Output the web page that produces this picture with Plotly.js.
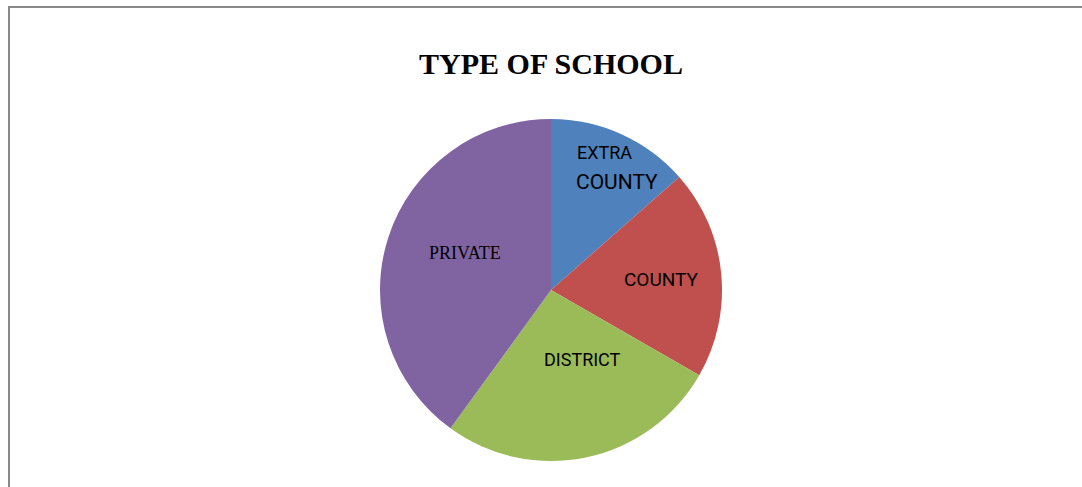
<!DOCTYPE html>
<html>
<head>
<meta charset="utf-8">
<script src="https://cdn.plot.ly/plotly-3.0.1.min.js"></script>
<style>
  html, body { margin: 0; padding: 0; background: #ffffff; overflow: hidden; }
  #wrap { position: relative; width: 1082px; height: 487px; }
  #chart { position: absolute; left: 0; top: 0; width: 1082px; height: 487px; }
  #frame { position: absolute; left: 8px; top: 6px; width: 1200px; height: 600px;
           border-left: 2px solid #8a8a8a; border-top: 2px solid #8a8a8a; pointer-events: none; }
</style>
</head>
<body>
<div id="wrap">
  <div id="chart"></div>
  <div id="frame"></div>
</div>
<script>
// Data (share of schools by type, %)
const categories = ["EXTRA COUNTY", "COUNTY", "DISTRICT", "PRIVATE"];
const shares = [13.5, 19.8, 26.7, 40.0];
const sliceColors = ["#4F81BD", "#C0504D", "#9BBB59", "#8064A2"];
const chartTitle = "TYPE OF SCHOOL";

const W = 1082, H = 487;
const px = x => x / W;
const py = y => 1 - y / H;

const trace = {
  type: "pie",
  labels: categories,
  values: shares,
  sort: false,
  direction: "clockwise",
  rotation: 0,
  marker: { colors: sliceColors, line: { width: 0 } },
  textinfo: "none",
  hoverinfo: "label+percent",
  showlegend: false,
  domain: { x: [px(380), px(722)], y: [py(461), py(119)] }
};

const sans = "Roboto, 'Liberation Sans', sans-serif";
const serif = "'Liberation Serif', 'Times New Roman', serif";
const extraWords = categories[0].split(" ");

const annotations = [
  { text: extraWords[0], x: px(604), y: py(153), font: { family: sans, size: 18, color: "#000" } },
  { text: extraWords[1], x: px(617), y: py(182), font: { family: sans, size: 21, color: "#000" } },
  { text: categories[1], x: px(661), y: py(279), font: { family: sans, size: 19, color: "#000" } },
  { text: categories[2], x: px(582), y: py(359), font: { family: sans, size: 18, color: "#000" } },
  { text: categories[3], x: px(465), y: py(253), font: { family: serif, size: 18, color: "#000" } }
].map(a => Object.assign({ xref: "paper", yref: "paper", xanchor: "center", yanchor: "middle", showarrow: false }, a));

const layout = {
  width: W, height: H,
  margin: { l: 0, r: 0, t: 0, b: 0 },
  paper_bgcolor: "#ffffff",
  plot_bgcolor: "#ffffff",
  title: {
    text: "<b>" + chartTitle + "</b>",
    x: px(551), xanchor: "center",
    y: py(63), yanchor: "middle",
    xref: "paper", yref: "paper",
    font: { family: serif, size: 30, color: "#000" }
  },
  annotations: annotations
};

Plotly.newPlot("chart", [trace], layout, { displayModeBar: false, staticPlot: true });
</script>
</body>
</html>
